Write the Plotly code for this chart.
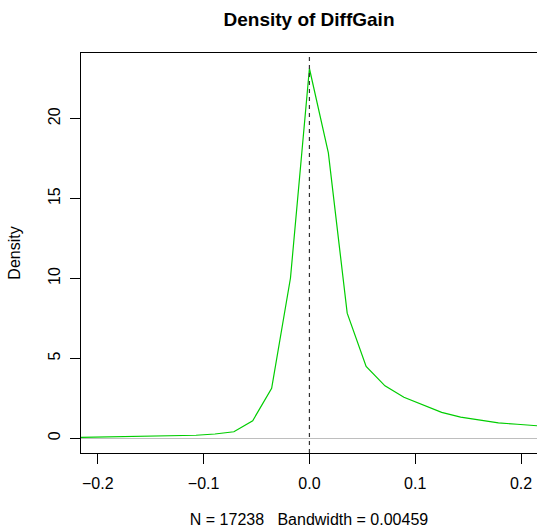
import plotly.graph_objects as go

# Density estimate of DiffGain
diffgain_x = [-0.2232, -0.2143, -0.1964, -0.1786, -0.1607, -0.1429, -0.1250, -0.1071, -0.0893,
              -0.0714, -0.0536, -0.0357, -0.0179, 0.0, 0.0179, 0.0357, 0.0536,
              0.0714, 0.0893, 0.1071, 0.1250, 0.1429, 0.1607, 0.1786, 0.1964, 0.2143, 0.2321]
density_y = [0.05, 0.06, 0.07, 0.08, 0.10, 0.12, 0.14, 0.19, 0.27,
             0.41, 1.10, 3.13, 10.03, 23.14, 17.86, 7.83, 4.50,
             3.28, 2.57, 2.10, 1.62, 1.32, 1.15, 0.96, 0.88, 0.77, 0.70]
ref_line_x = 0.0
x_ticks = [-0.2, -0.1, 0.0, 0.1, 0.2]
x_tick_labels = ["\u22120.2", "\u22120.1", "0.0", "0.1", "0.2"]
y_ticks = [0, 5, 10, 15, 20]
title_text = "Density of DiffGain"
x_title = "N = 17238\u00a0\u00a0\u00a0Bandwidth = 0.00459"
y_title = "Density"

FONT = "Liberation Sans, Arial, Helvetica, sans-serif"

fig = go.Figure()
fig.add_trace(go.Scatter(x=diffgain_x, y=density_y, mode="lines",
                         line=dict(color="#00CD00", width=1.2),
                         showlegend=False, hoverinfo="skip"))

fig.add_shape(type="line", xref="x", yref="paper", x0=ref_line_x, x1=ref_line_x,
              y0=0, y1=1, line=dict(color="#333333", width=1.2, dash="4px,4px"))

fig.update_layout(
    width=537, height=528,
    margin=dict(l=81, r=0, t=53, b=75),
    paper_bgcolor="white", plot_bgcolor="white",
    font=dict(family=FONT, size=16, color="black"),
    title=dict(text="<b>" + title_text + "</b>", x=0.5, xref="paper",
               y=1 - 19 / 528, yref="container", yanchor="middle",
               xanchor="center", font=dict(size=19, family=FONT, color="black")),
    showlegend=False,
)
fig.update_xaxes(range=[-0.2159, 0.2151], tickvals=x_ticks, ticktext=x_tick_labels,
                 ticks="outside", ticklen=10, tickcolor="black", tickwidth=1,
                 showline=True, linecolor="black", linewidth=1, mirror=True,
                 showgrid=False, zeroline=False, ticklabelstandoff=6,
                 title=dict(text=x_title, standoff=22,
                            font=dict(size=16, family=FONT, color="black")))
fig.update_yaxes(range=[-0.92, 24.11], tickvals=y_ticks,
                 ticks="outside", ticklen=10, tickcolor="black", tickwidth=1,
                 showline=True, linecolor="black", linewidth=1, mirror=False,
                 showgrid=False, zeroline=True, zerolinecolor="#BEBEBE", zerolinewidth=1,
                 tickangle=-90, ticklabelstandoff=4,
                 title=dict(text=y_title, standoff=20,
                            font=dict(size=16, family=FONT, color="black")))

fig.write_html("out.html")
